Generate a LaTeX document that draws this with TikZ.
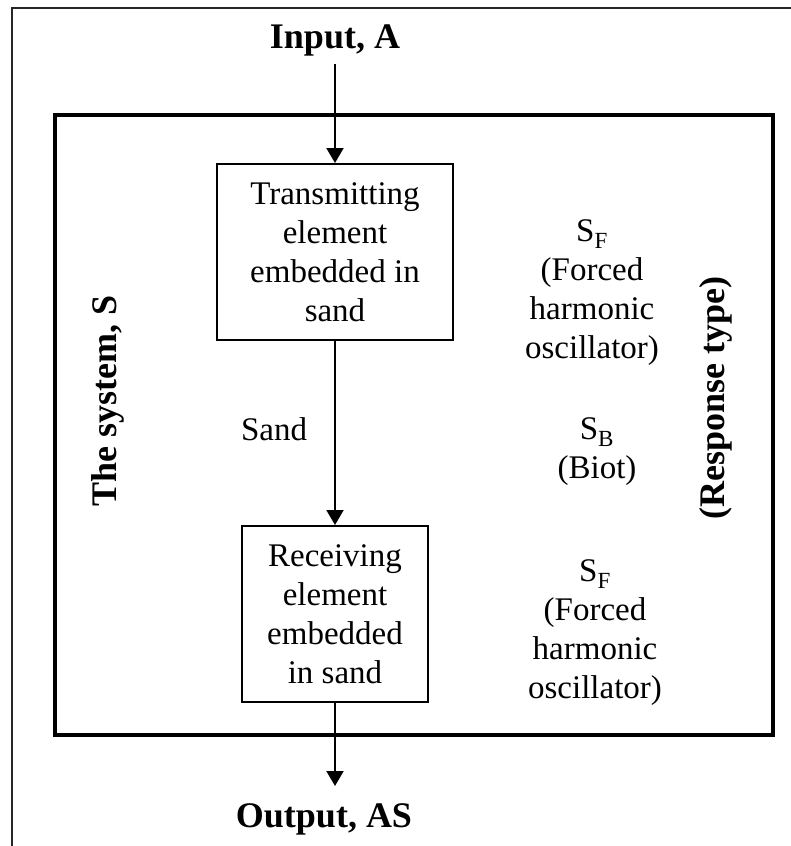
\documentclass[tikz,border=0pt]{standalone}
\usepackage{fontspec}
\setmainfont{Liberation Serif}
\usetikzlibrary{arrows.meta, positioning}
\tikzset{
  element/.style={rectangle, draw=black, line width=2pt,
    minimum height=176pt, inner sep=0pt, align=center,
    font=\fontsize{33}{39}\selectfont},
  sysbox/.style={rectangle, draw=black, line width=4pt},
  heading/.style={font=\fontsize{36}{42}\selectfont\bfseries},
  response/.style={align=center, font=\fontsize{33}{39}\selectfont},
  arrow/.style={-{Triangle[width=17pt,length=15pt]}, line width=2pt},
}
\begin{document}
\begin{tikzpicture}[x=1pt, y=1pt]
  \useasboundingbox (0,0) rectangle (791,-846);
  % frame of the figure
  \draw[line width=2pt, black!85] (791,-8) -- (12,-8) -- (12,-846);
  \node[sysbox, minimum width=718pt, minimum height=620pt] (sys) at (414,-425) {};

  \node[element, minimum width=236pt] (trans) at (335,-252)
    {Transmitting\\element\\embedded in\\sand};
  \node[element, minimum width=186pt, below=184pt of trans] (recv)
    {Receiving\\element\\embedded\\in sand};

  \node[heading] (input) at (335,-40) {Input, A};
  \node[heading] (output) at (324,-819) {Output, AS};
  \coordinate[below=83pt of recv] (outtip);

  \node[heading, rotate=90] (system) at (108,-401) {The system, S};
  \node[heading, rotate=90] (resptype) at (716,-398) {(Response type)};

  \node[response] (sandlbl) at (274,-429) {Sand};
  \node[response] (forced1) at (592,-293)
    {S\textsubscript{F}\\(Forced\\harmonic\\oscillator)};
  \node[response] (biot) at (597,-452) {S\textsubscript{B}\\(Biot)};
  \node[response] (forced2) at (595,-633)
    {S\textsubscript{F}\\(Forced\\harmonic\\oscillator)};

  \draw[arrow, shorten <=5pt] (input) -- (trans);
  \draw[arrow] (trans) -- (recv);
  \draw[arrow] (recv) -- (outtip);
\end{tikzpicture}
\end{document}
